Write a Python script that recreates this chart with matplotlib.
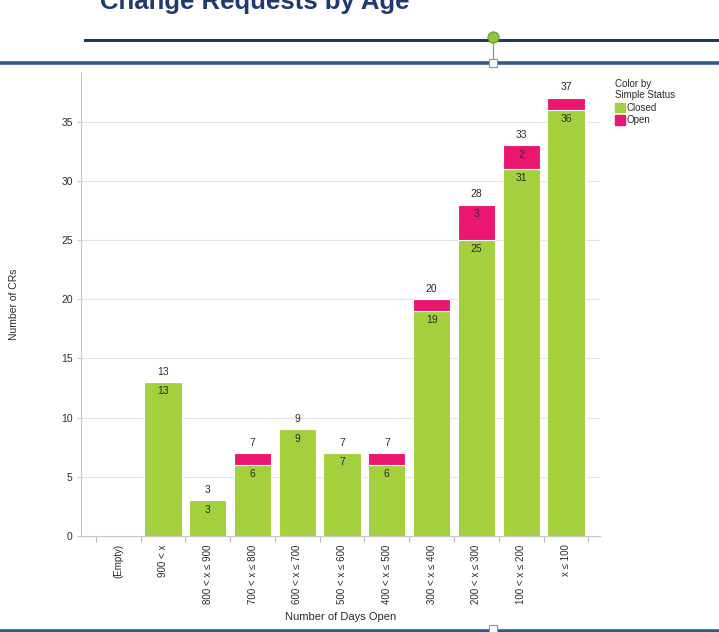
import matplotlib.pyplot as plt
from matplotlib.patches import Patch

plt.rcParams['font.family'] = ['Liberation Sans', 'DejaVu Sans']

# Donnees
categories = ["(Empty)", "900 < x", "800 < x ≤ 900", "700 < x ≤ 800", "600 < x ≤ 700",
              "500 < x ≤ 600", "400 < x ≤ 500", "300 < x ≤ 400", "200 < x ≤ 300",
              "100 < x ≤ 200", "x ≤ 100"]
closed = [0, 13, 3, 6, 9, 7, 6, 19, 25, 31, 36]
opened = [0, 0, 0, 1, 0, 0, 1, 1, 3, 2, 1]
yticks = [0, 5, 10, 15, 20, 25, 30, 35]

vert = "#a3d03c"
rose = "#ea1670"
texte = "#2b2b2b"

W, H = 719, 632
fig = plt.figure(figsize=(W / 100, H / 100), dpi=100)

# decor de la diapo (titre, traits)
deco = fig.add_axes([0, 0, 1, 1])
deco.set_xlim(0, W)
deco.set_ylim(H, 0)
deco.axis("off")
deco.plot([85, W], [40, 40], color="#1f3a63", lw=2.2)
deco.plot([0, W], [63, 63], color="#2f5a86", lw=2.6)
deco.plot([0, W], [631, 631], color="#2f5a86", lw=2.6)
deco.plot([493, 493], [38, 63], color="#888888", lw=0.8)
deco.plot([493], [37], "o", ms=8, mfc="#8dc63f", mec="#6a9a2a", mew=0.8)
deco.plot([493], [63], "s", ms=6, mfc="white", mec="#7a9ab5", mew=0.8)
deco.plot([493], [629], "s", ms=6, mfc="white", mec="#7a9ab5", mew=0.8)
fig.text(100 / W, 1 - 9 / H, "Change Requests by Age", fontsize=18.5, fontweight="bold",
         color="#1f3a73", va="baseline", ha="left")

ax = fig.add_axes([81 / W, 1 - 536 / H, (600 - 81) / W, (536 - 72) / H])
x = list(range(len(categories)))
ax.bar(x, closed, width=0.83, color=vert, edgecolor="white", linewidth=0.8, zorder=3)
ax.bar(x, opened, width=0.83, bottom=closed, color=rose, edgecolor="white", linewidth=0.8, zorder=3)

for i in x:
    total = closed[i] + opened[i]
    if total == 0:
        continue
    ax.annotate(str(total), (i, total), xytext=(0, 4), textcoords="offset points",
                ha="center", va="bottom", fontsize=7.5, color=texte)
    ax.annotate(str(closed[i]), (i, closed[i]), xytext=(0, -3), textcoords="offset points",
                ha="center", va="top", fontsize=7.5, color=texte)
    if opened[i] > 1:
        ax.annotate(str(opened[i]), (i, total), xytext=(0, -3), textcoords="offset points",
                    ha="center", va="top", fontsize=7.5, color=texte)

ax.set_xlim(-0.83, 10.76)
ax.set_ylim(0, 39.2)
ax.set_yticks(yticks)
ax.set_xticks([k + 0.5 for k in range(-1, len(categories))])
ax.set_xticklabels([])
ax.set_xticks(x, minor=True)
ax.set_xticklabels(categories, minor=True, rotation=90, fontsize=7, color=texte)
ax.tick_params(axis="x", which="minor", length=0, pad=6)
ax.tick_params(axis="x", which="major", length=4, color="#bbbbbb")
ax.tick_params(axis="y", length=3, color="#cccccc", labelsize=7.5, labelcolor=texte, pad=3)
ax.grid(axis="y", color="#e3e3e3", lw=0.8, zorder=0)

for s in ["top", "right"]:
    ax.spines[s].set_visible(False)
for s in ["left", "bottom"]:
    ax.spines[s].set_color("#c8c8c8")

ax.set_ylabel("Number of CRs", fontsize=7.5, color=texte, labelpad=30)
ax.set_xlabel("Number of Days Open", fontsize=8, color=texte, labelpad=6)

leg = ax.legend(handles=[Patch(color=vert, label="Closed"), Patch(color=rose, label="Open")],
                title="Color by\nSimple Status", loc="upper left",
                bbox_to_anchor=(608 / W, 1 - 72 / H), bbox_transform=fig.transFigure,
                frameon=False, fontsize=7, title_fontsize=7, alignment="left",
                handlelength=1.0, handleheight=1.1, handletextpad=0.2, labelspacing=0.25,
                borderpad=0.2)
for t in leg.get_texts():
    t.set_color(texte)
leg.get_title().set_color(texte)

fig.savefig("out.png", dpi=100)
